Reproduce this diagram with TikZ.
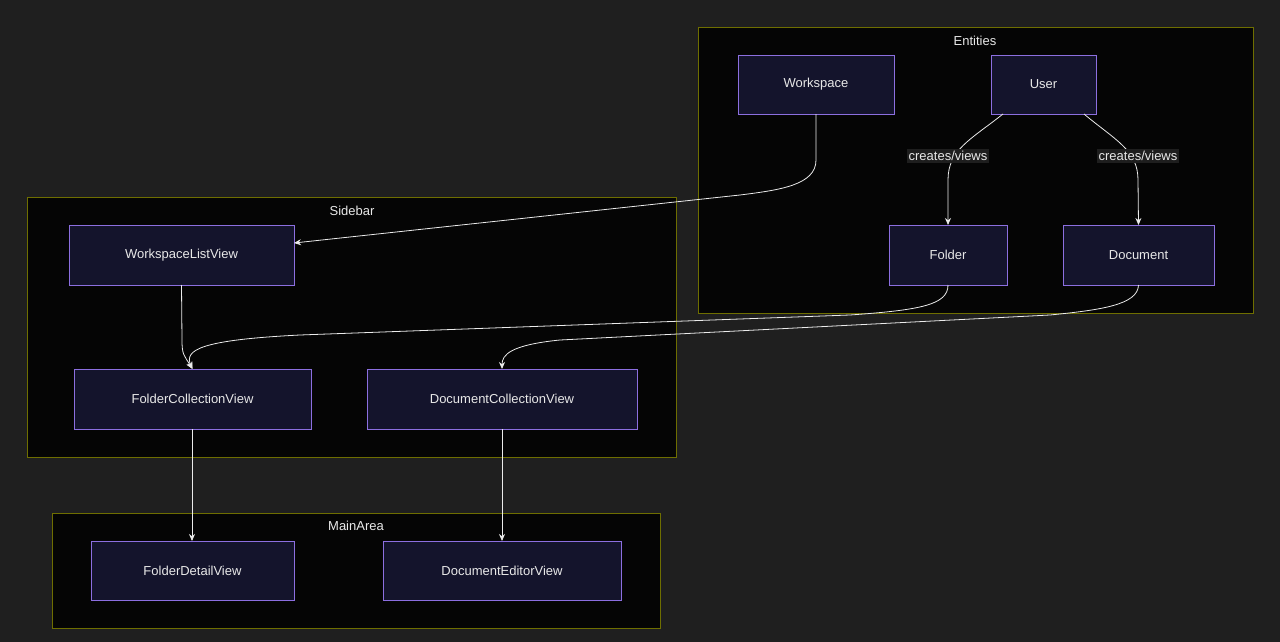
\documentclass[tikz,border=0pt]{standalone}
\usepackage{fontspec}
\setmainfont{Liberation Sans}
\usetikzlibrary{arrows.meta}
\definecolor{bg}{HTML}{1F1F1F}
\definecolor{clfill}{HTML}{050505}
\definecolor{clline}{HTML}{6E6E00}
\definecolor{nfill}{HTML}{14142C}
\definecolor{nline}{HTML}{8C6FE0}
\definecolor{txt}{HTML}{E8E8E8}
\definecolor{lbg}{HTML}{1E1E1E}
\begin{document}
\begin{tikzpicture}[x=1pt,y=-1pt,
  cluster/.style={draw=clline,fill=clfill,line width=0.8pt},
  box/.style={draw=nline,fill=nfill,line width=0.8pt,text=txt,font=\fontsize{13}{15}\selectfont},
  ctitle/.style={text=txt,font=\fontsize{13}{15}\selectfont},
  edge/.style={draw=txt!85,line width=0.8pt,-{Stealth[length=7pt,width=6pt]}},
  elabel/.style={fill=lbg,text=txt,font=\fontsize{13}{15}\selectfont,inner sep=2pt}]
\fill[bg] (0,0) rectangle (1280,642);
\useasboundingbox (0,0) rectangle (1280,642);
\draw[cluster] (698,27) rectangle (1253,313);
\node[ctitle] (tEnt) at (975,41) {Entities};
\draw[cluster] (27,197) rectangle (676,457);
\node[ctitle] (tSide) at (352,211) {Sidebar};
\draw[cluster] (52,513) rectangle (660,628);
\node[ctitle] (tMain) at (356,526) {MainArea};
\newcommand{\bx}[6]{\draw[box] (#2,#3) rectangle (#4,#5); \node[box,draw=none,fill=none,inner sep=0] (#1) at ({(#2+#4)/2},{(#3+#5)/2}) {#6};
 \coordinate (#1-t) at ({(#2+#4)/2},#3); \coordinate (#1-b) at ({(#2+#4)/2},#5);}
\bx{ws}{738}{55}{894}{114}{Workspace}
\bx{user}{991}{55}{1096}{114}{User}
\bx{folder}{889}{225}{1007}{285}{Folder}
\bx{doc}{1063}{225}{1214}{285}{Document}
\bx{wlv}{69}{225}{294}{285}{WorkspaceListView}
\bx{fcv}{74}{369}{311}{429}{FolderCollectionView}
\bx{dcv}{367}{369}{637}{429}{DocumentCollectionView}
\bx{fdv}{91}{541}{294}{600}{FolderDetailView}
\bx{dev}{383}{541}{621}{600}{DocumentEditorView}
\coordinate (wlv-r) at (294,243);
\coordinate (u1) at (1003,114);
\coordinate (u2) at (1084,114);
\draw[edge] (ws-b) -- (816,160) .. controls (816,185) and (780,190) .. (740,195) -- (wlv-r);
\draw[edge] (u1) .. controls (970,140) and (948,150) .. (948,180) -- (folder-t);
\draw[edge] (u2) .. controls (1115,140) and (1138,150) .. (1138,180) -- (doc-t);
\node[elabel] (l1) at (948,156) {creates/views};
\node[elabel] (l2) at (1138,156) {creates/views};
\draw[edge] (folder-b) .. controls (948,305) and (920,310) .. (850,315) -- (300,335) .. controls (200,340) and (184,350) .. (fcv-t);
\draw[edge] (doc-b) .. controls (1138,305) and (1100,310) .. (1050,315) -- (560,340) .. controls (510,345) and (502,355) .. (dcv-t);
\draw[edge] (wlv-b) -- (182,340) .. controls (182,355) and (184,355) .. (fcv-t);
\draw[edge] (192,429) -- (192,541);
\draw[edge] (dcv-b) -- (dev-t);
\end{tikzpicture}
\end{document}
